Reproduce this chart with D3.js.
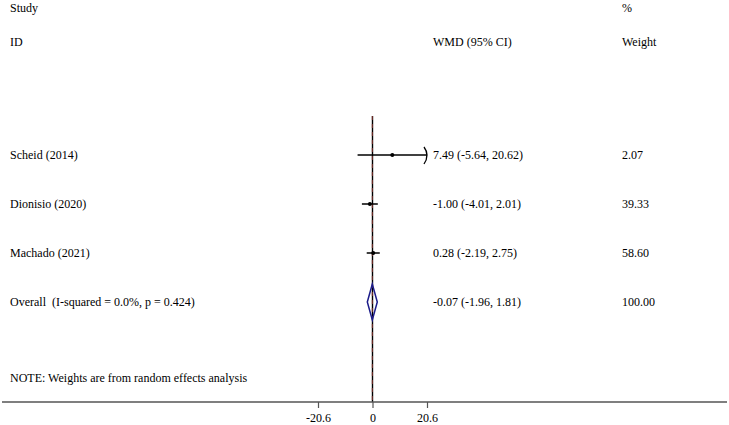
<!DOCTYPE html>
<html>
<head>
<meta charset="utf-8">
<script src="https://cdn.jsdelivr.net/npm/d3@7"></script>
<style>
  body { margin: 0; background: #fff; }
  text { font-family: "Liberation Serif", "Times New Roman", serif; font-size: 12px; fill: #000; white-space: pre; }
</style>
</head>
<body>
<div class="chart"></div>
<script>
// Chart data
var studies = ["Scheid (2014)", "Dionisio (2020)", "Machado (2021)"];
var estimates = [7.49, -1.00, 0.28];
var lowerCI = [-5.64, -4.01, -2.19];
var upperCI = [20.62, 2.01, 2.75];
var weights = ["2.07", "39.33", "58.60"];
var overall = { label: "Overall  (I-squared = 0.0%, p = 0.424)", est: -0.07, lo: -1.96, hi: 1.81, weight: "100.00" };
var tickValues = [-20.6, 0, 20.6];

var svgWidth = 729;
var svgHeight = 425;

var svg = d3.select(".chart")
  .append("svg")
  .attr("width", svgWidth)
  .attr("height", svgHeight);

// x scale for effect size
var xScale = d3.scaleLinear()
  .domain([-20.6, 20.6])
  .range([318, 427]);

// row positions
var rowY = d3.scalePoint()
  .domain(studies.concat([overall.label]))
  .range([155, 302]);

var axisY = 402;
var topY = 116;
// plain hyphen minus like the original
var fmt = d => d.toFixed(2);

// Header texts
svg.append("text").attr("x", 10).attr("y", 12).text("Study");
svg.append("text").attr("x", 10).attr("y", 46).text("ID");
svg.append("text").attr("x", 433).attr("y", 46).text("WMD (95% CI)");
svg.append("text").attr("x", 622).attr("y", 12).text("%");
svg.append("text").attr("x", 622).attr("y", 46).text("Weight");

// Null line
svg.append("line")
  .attr("x1", xScale(0)).attr("x2", xScale(0))
  .attr("y1", topY).attr("y2", axisY)
  .attr("stroke", "#000")
  .attr("stroke-width", 1.4);

// Overall effect line
svg.append("line")
  .attr("x1", xScale(overall.est)).attr("x2", xScale(overall.est))
  .attr("y1", topY).attr("y2", axisY)
  .attr("stroke", "#8a3530")
  .attr("stroke-width", 0.9)
  .attr("stroke-dasharray", "4,4");

// Study rows
var xMin = xScale.domain()[0];
var xMax = xScale.domain()[1];

studies.forEach(function(s, i) {
  var y = rowY(s);
  var lo = Math.max(lowerCI[i], xMin);
  var hi = Math.min(upperCI[i], xMax);
  svg.append("line")
    .attr("x1", xScale(lo)).attr("x2", xScale(hi))
    .attr("y1", y).attr("y2", y)
    .attr("stroke", "#000")
    .attr("stroke-width", 1.5);
  svg.append("circle")
    .attr("cx", xScale(estimates[i]))
    .attr("cy", y)
    .attr("r", 2)
    .attr("fill", "#000");
  // clipped CI arrow
  if (upperCI[i] > xMax) {
    var ax = xScale(xMax);
    svg.append("path")
      .attr("d", `M${ax - 3},${y - 8} Q${ax + 3},${y} ${ax - 3},${y + 9}`)
      .attr("fill", "none")
      .attr("stroke", "#000")
      .attr("stroke-width", 1.3);
  }
  svg.append("text").attr("x", 10).attr("y", y + 4).text(s);
  svg.append("text").attr("x", 433).attr("y", y + 4)
    .text(`${fmt(estimates[i])} (${fmt(lowerCI[i])}, ${fmt(upperCI[i])})`);
  svg.append("text").attr("x", 622).attr("y", y + 4).text(weights[i]);
});

// Overall diamond
var oy = rowY(overall.label);
svg.append("path")
  .attr("d", `M${xScale(overall.lo)},${oy} L${xScale(overall.est)},${oy - 18} L${xScale(overall.hi)},${oy} L${xScale(overall.est)},${oy + 18} Z`)
  .attr("fill", "none")
  .attr("stroke", "#1c1c8a")
  .attr("stroke-width", 1.5);
svg.append("text").attr("x", 10).attr("y", oy + 4).text(overall.label);
svg.append("text").attr("x", 433).attr("y", oy + 4)
  .text(`${fmt(overall.est)} (${fmt(overall.lo)}, ${fmt(overall.hi)})`);
svg.append("text").attr("x", 622).attr("y", oy + 4).text(overall.weight);

// Note
svg.append("text").attr("x", 10).attr("y", 382).text("NOTE: Weights are from random effects analysis");

// Bottom axis
svg.append("line")
  .attr("x1", 2).attr("x2", 727)
  .attr("y1", axisY).attr("y2", axisY)
  .attr("stroke", "#555")
  .attr("stroke-width", 1.6);

var bottomAxis = d3.axisBottom(xScale)
  .tickValues(tickValues)
  .tickFormat(d => String(d))
  .tickSize(6)
  .tickPadding(5);

var axisGroup = svg.append("g")
  .attr("transform", `translate(0, ${axisY})`)
  .call(bottomAxis);

axisGroup.select(".domain").remove();
axisGroup.selectAll(".tick line").attr("stroke", "#555").attr("stroke-width", 1.2);
axisGroup.selectAll(".tick text")
  .style("font-family", "'Liberation Serif', serif")
  .style("font-size", "12px")
  .attr("fill", "#000");
</script>
</body>
</html>
